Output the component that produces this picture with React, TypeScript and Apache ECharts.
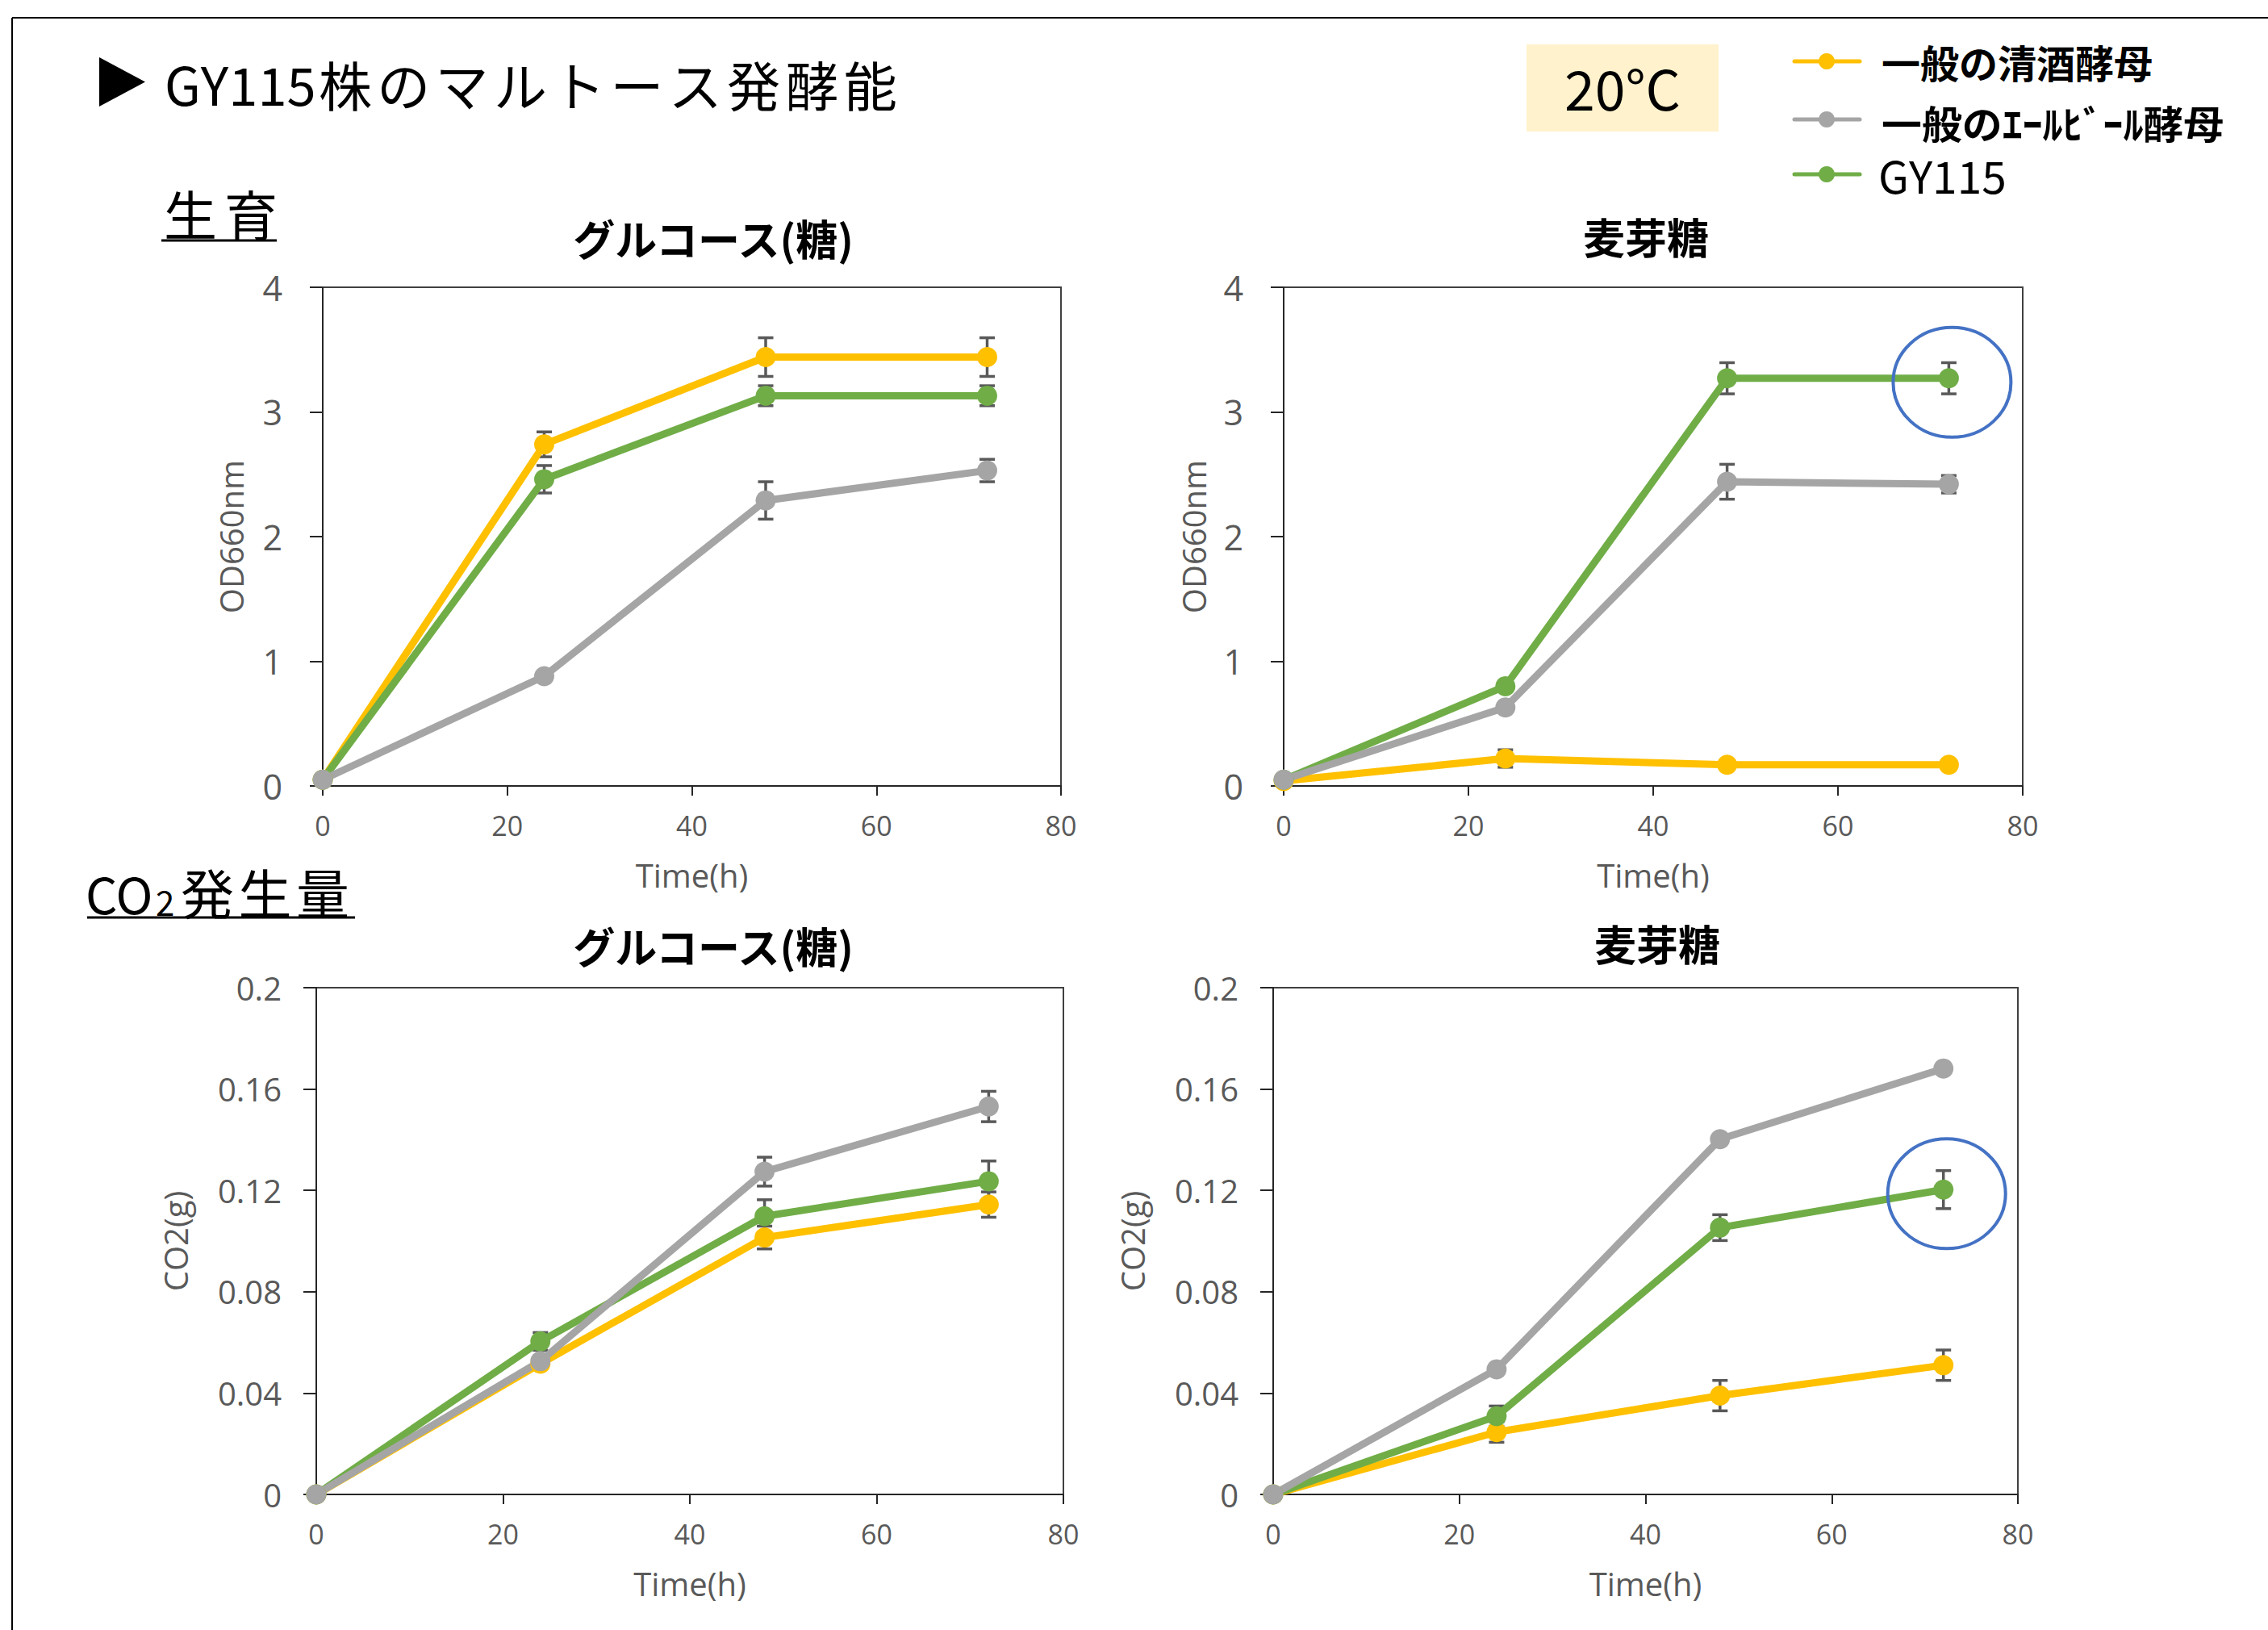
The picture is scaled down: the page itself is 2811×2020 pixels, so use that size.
import React, { useEffect, useRef } from 'react';
import * as echarts from 'echarts';

// ---------- data ----------
const hours = [0, 24, 48, 72];
const strainNames = ['一般の清酒酵母', '一般のｴｰﾙﾋﾞｰﾙ酵母', 'GY115'];
const strainColors = ['#FFC000', '#A5A5A5', '#70AD47'];

const panelTitles = ['グルコース(糖)', '麦芽糖', 'グルコース(糖)', '麦芽糖'];
const sectionGrowth = ['生', '育'];
const sectionCO2 = ['発', '生', '量'];
const mainTitleLatin = 'GY115';
const mainTitleChars = '株のマルトース発酵能';
const tempLabel = '20°C';

// Growth, glucose (OD660nm)
const odGlucoseSake = [0.05, 2.74, 3.44, 3.44];
const odGlucoseSakeErr = [0, 0.1, 0.155, 0.155];
const odGlucoseAle = [0.05, 0.88, 2.29, 2.53];
const odGlucoseAleErr = [0, 0.03, 0.15, 0.09];
const odGlucoseGY = [0.05, 2.46, 3.13, 3.13];
const odGlucoseGYErr = [0, 0.11, 0.08, 0.08];

// Growth, maltose (OD660nm)
const odMaltoseSake = [0.04, 0.22, 0.17, 0.17];
const odMaltoseSakeErr = [0, 0.07, 0.02, 0.02];
const odMaltoseAle = [0.05, 0.63, 2.44, 2.42];
const odMaltoseAleErr = [0, 0.03, 0.14, 0.07];
const odMaltoseGY = [0.05, 0.8, 3.27, 3.27];
const odMaltoseGYErr = [0, 0.03, 0.125, 0.125];

// CO2, glucose (g)
const co2GlucoseSake = [0, 0.0516, 0.1014, 0.1144];
const co2GlucoseSakeErr = [0, 0.002, 0.0045, 0.005];
const co2GlucoseAle = [0, 0.0526, 0.1274, 0.1531];
const co2GlucoseAleErr = [0, 0.002, 0.0057, 0.006];
const co2GlucoseGY = [0, 0.0604, 0.1098, 0.1236];
const co2GlucoseGYErr = [0, 0.0035, 0.0065, 0.008];

// CO2, maltose (g)
const co2MaltoseSake = [0, 0.0246, 0.039, 0.051];
const co2MaltoseSakeErr = [0, 0.004, 0.006, 0.006];
const co2MaltoseAle = [0, 0.0494, 0.1402, 0.1681];
const co2MaltoseAleErr = [0, 0, 0, 0];
const co2MaltoseGY = [0, 0.0309, 0.1053, 0.1203];
const co2MaltoseGYErr = [0, 0.004, 0.0051, 0.0075];

// ---------- styles / layout ----------
const FONT_JP = '"Noto Sans CJK JP", "Noto Sans", sans-serif';
const FONT_AX = '"Open Sans", "Noto Sans", sans-serif';
const AX_COLOR = '#595959';
const LINE_COLOR = '#262626';

const panels = [
  {
    grid: { left: 400, top: 356, width: 915, height: 618 },
    titlePos: [884, 294],
    yMax: 4, yInterval: 1, yName: 'OD660nm', yNameGap: 94, yLabelSize: 43, yLabelMargin: 50,
    vals: [odGlucoseSake, odGlucoseAle, odGlucoseGY],
    errs: [odGlucoseSakeErr, odGlucoseAleErr, odGlucoseGYErr],
    highlight: false,
  },
  {
    grid: { left: 1591, top: 356, width: 916, height: 618 },
    titlePos: [2040, 292],
    yMax: 4, yInterval: 1, yName: 'OD660nm', yNameGap: 92, yLabelSize: 43, yLabelMargin: 50,
    vals: [odMaltoseSake, odMaltoseAle, odMaltoseGY],
    errs: [odMaltoseSakeErr, odMaltoseAleErr, odMaltoseGYErr],
    highlight: true,
  },
  {
    grid: { left: 392, top: 1224, width: 926, height: 628 },
    titlePos: [884, 1171],
    yMax: 0.2, yInterval: 0.04, yName: 'CO2(g)', yNameGap: 155, yLabelSize: 40, yLabelMargin: 43,
    vals: [co2GlucoseSake, co2GlucoseAle, co2GlucoseGY],
    errs: [co2GlucoseSakeErr, co2GlucoseAleErr, co2GlucoseGYErr],
    highlight: false,
  },
  {
    grid: { left: 1578, top: 1224, width: 923, height: 628 },
    titlePos: [2054, 1168],
    yMax: 0.2, yInterval: 0.04, yName: 'CO2(g)', yNameGap: 155, yLabelSize: 40, yLabelMargin: 43,
    vals: [co2MaltoseSake, co2MaltoseAle, co2MaltoseGY],
    errs: [co2MaltoseSakeErr, co2MaltoseAleErr, co2MaltoseGYErr],
    highlight: true,
  },
];

// draw order: sake, GY115, ale (gray on top)
const drawOrder = [0, 2, 1];

function txt(text: string, x: number, y: number, size: number, opts: any = {}) {
  return {
    type: 'text',
    x,
    y,
    silent: true,
    scaleX: opts.scaleX || 1,
    style: {
      text,
      fontSize: size,
      fontFamily: opts.family || FONT_JP,
      fontWeight: opts.weight || 'normal',
      fill: opts.color || '#000',
      align: opts.align || 'left',
      verticalAlign: 'middle',
    },
  };
}

function errSeries(gi: number, vals: number[], errs: number[]) {
  return {
    type: 'custom',
    xAxisIndex: gi,
    yAxisIndex: gi,
    z: 3,
    silent: true,
    clip: false,
    data: hours.map((h, i) => [h, vals[i] - errs[i], vals[i] + errs[i]]),
    renderItem: (params: any, api: any) => {
      const x = api.value(0);
      const lo = api.value(1);
      const hi = api.value(2);
      if (!(hi > lo)) return { type: 'group', children: [] };
      const a = api.coord([x, hi]);
      const b = api.coord([x, lo]);
      const st = { stroke: '#595959', lineWidth: 3.5 };
      const w = 9.5;
      return {
        type: 'group',
        children: [
          { type: 'line', shape: { x1: a[0], y1: a[1], x2: b[0], y2: b[1] }, style: st },
          { type: 'line', shape: { x1: a[0] - w, y1: a[1], x2: a[0] + w, y2: a[1] }, style: st },
          { type: 'line', shape: { x1: b[0] - w, y1: b[1], x2: b[0] + w, y2: b[1] }, style: st },
        ],
      };
    },
  };
}

function highlightSeries(gi: number, vals: number[]) {
  const idx = hours.length - 1;
  return {
    type: 'custom',
    xAxisIndex: gi,
    yAxisIndex: gi,
    z: 6,
    silent: true,
    clip: false,
    data: [[hours[idx], vals[idx]]],
    renderItem: (params: any, api: any) => {
      const c = api.coord([api.value(0), api.value(1)]);
      return {
        type: 'ellipse',
        shape: { cx: c[0] + 4, cy: c[1] + 5, rx: 73, ry: 68 },
        style: { fill: 'none', stroke: '#4472C4', lineWidth: 4 },
      };
    },
  };
}

function buildOption() {
  const grids: any[] = [];
  const xAxes: any[] = [];
  const yAxes: any[] = [];
  const series: any[] = [];
  const graphics: any[] = [];

  panels.forEach((p, gi) => {
    grids.push({
      ...p.grid,
      show: true,
      borderColor: '#404040',
      borderWidth: 2,
      backgroundColor: 'transparent',
      containLabel: false,
    });
    xAxes.push({
      type: 'value',
      gridIndex: gi,
      min: 0,
      max: 80,
      interval: 20,
      axisLine: { show: true, onZero: false, lineStyle: { color: LINE_COLOR, width: 2 } },
      axisTick: { show: true, length: 12, lineStyle: { color: LINE_COLOR, width: 2 } },
      axisLabel: { fontSize: 34, color: AX_COLOR, margin: 32, fontFamily: FONT_AX },
      splitLine: { show: false },
      name: 'Time(h)',
      nameLocation: 'middle',
      nameGap: 90,
      nameTextStyle: { fontSize: 40, color: AX_COLOR, fontFamily: FONT_AX },
    });
    yAxes.push({
      type: 'value',
      gridIndex: gi,
      min: 0,
      max: p.yMax,
      interval: p.yInterval,
      axisLine: { show: true, onZero: false, lineStyle: { color: LINE_COLOR, width: 2 } },
      axisTick: { show: true, length: 16, lineStyle: { color: LINE_COLOR, width: 2 } },
      axisLabel: { fontSize: p.yLabelSize, color: AX_COLOR, margin: p.yLabelMargin, fontFamily: FONT_AX },
      splitLine: { show: false },
      name: p.yName,
      nameLocation: 'middle',
      nameGap: p.yNameGap,
      nameTextStyle: { fontSize: 40, color: AX_COLOR, fontFamily: FONT_AX },
    });

    drawOrder.forEach((si) => {
      series.push(errSeries(gi, p.vals[si], p.errs[si]));
    });
    drawOrder.forEach((si) => {
      series.push({
        type: 'line',
        name: strainNames[si],
        xAxisIndex: gi,
        yAxisIndex: gi,
        data: hours.map((h, i) => [h, p.vals[si][i]]),
        symbol: 'circle',
        symbolSize: 25,
        showSymbol: true,
        lineStyle: { color: strainColors[si], width: 9 },
        itemStyle: { color: strainColors[si] },
        z: 4,
        clip: false,
        silent: true,
      });
    });
    if (p.highlight) series.push(highlightSeries(gi, p.vals[2]));

    graphics.push(txt(panelTitles[gi], p.titlePos[0], p.titlePos[1], 52, { weight: 'bold', align: 'center' }));
  });

  // outer frame
  graphics.push({ type: 'line', silent: true, shape: { x1: 15, y1: 22, x2: 2811, y2: 22 }, style: { stroke: '#000', lineWidth: 2 } });
  graphics.push({ type: 'line', silent: true, shape: { x1: 15, y1: 22, x2: 15, y2: 2020 }, style: { stroke: '#000', lineWidth: 2 } });

  // main title
  graphics.push({ type: 'polygon', silent: true, shape: { points: [[123, 71], [180, 101.5], [123, 132]] }, style: { fill: '#000' } });
  graphics.push(txt(mainTitleLatin, 204, 103, 65));
  mainTitleChars.split('').forEach((c, i) => graphics.push(txt(c, 395 + i * 72.3, 103, 66)));

  // section labels
  sectionGrowth.forEach((c, i) => graphics.push(txt(c, 203 + i * 75, 263, 66)));
  graphics.push({ type: 'line', silent: true, shape: { x1: 200, y1: 298, x2: 343, y2: 298 }, style: { stroke: '#000', lineWidth: 3 } });

  graphics.push(txt('CO', 106, 1106, 62));
  graphics.push(txt('2', 193, 1116, 42));
  sectionCO2.forEach((c, i) => graphics.push(txt(c, 224 + i * 71.5, 1104, 66)));
  graphics.push({ type: 'line', silent: true, shape: { x1: 108, y1: 1137, x2: 440, y2: 1137 }, style: { stroke: '#000', lineWidth: 3 } });

  // temperature box
  graphics.push({ type: 'rect', silent: true, shape: { x: 1892, y: 55, width: 238, height: 108 }, style: { fill: '#FFF2CC' } });
  graphics.push(txt(tempLabel, 2011, 107, 68, { align: 'center' }));

  // legend
  const lineY = [76, 148, 216];
  const textY = [76, 151, 216];
  strainNames.forEach((n, i) => {
    graphics.push({ type: 'line', silent: true, shape: { x1: 2224, y1: lineY[i], x2: 2305, y2: lineY[i] }, style: { stroke: strainColors[i], lineWidth: 5, lineCap: 'round' } });
    graphics.push({ type: 'circle', silent: true, shape: { cx: 2264, cy: lineY[i], r: 10 }, style: { fill: strainColors[i] } });
    const isLatin = i === 2;
    graphics.push(txt(n, isLatin ? 2328 : 2332, textY[i], isLatin ? 55 : 48, { weight: isLatin ? 'normal' : 'bold', scaleX: i === 1 ? 1.04 : 1 }));
  });

  return {
    animation: false,
    backgroundColor: '#ffffff',
    grid: grids,
    xAxis: xAxes,
    yAxis: yAxes,
    series,
    graphic: { elements: graphics },
  };
}

export default function App() {
  const ref = useRef<HTMLDivElement>(null);
  useEffect(() => {
    document.body.style.margin = '0';
    document.body.style.overflow = 'hidden';
    if (!ref.current) return;
    const chart = echarts.init(ref.current, undefined, { renderer: 'svg' });
    chart.setOption(buildOption() as any);
    return () => chart.dispose();
  }, []);
  return <div ref={ref} style={{ width: 2811, height: 2020 }} />;
}
